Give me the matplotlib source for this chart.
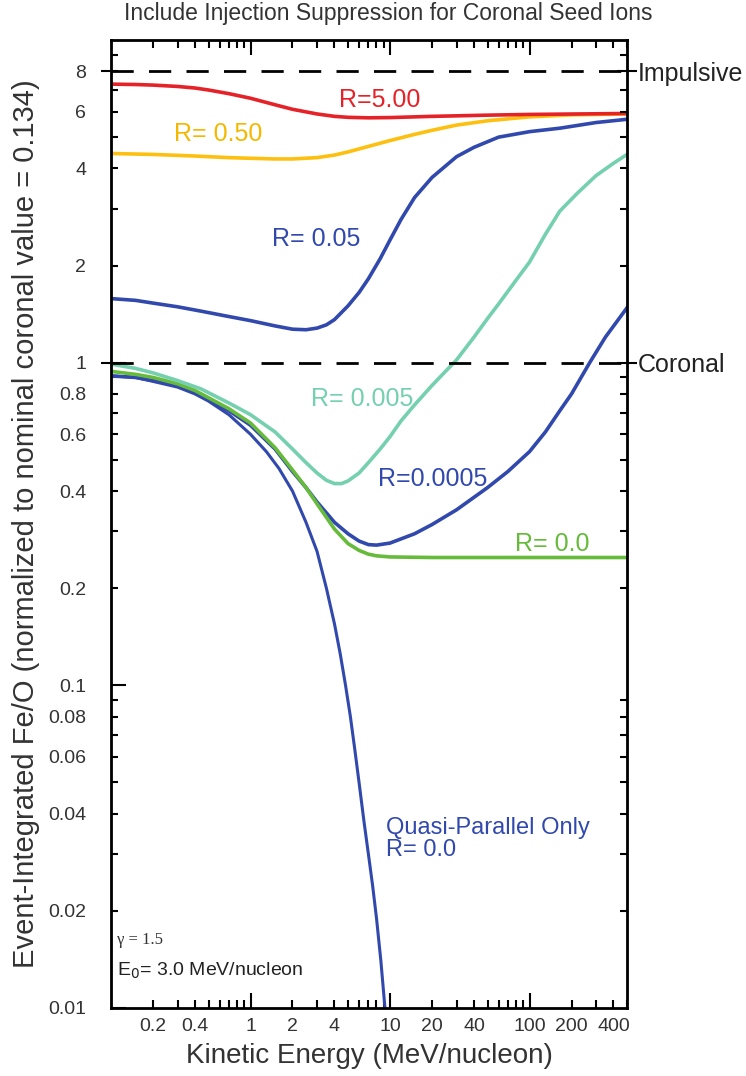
import numpy as np
import matplotlib.pyplot as plt
from matplotlib.ticker import FixedLocator, FuncFormatter, NullFormatter

plt.rcParams['font.family'] = ['Liberation Sans', 'DejaVu Sans']

# --- data (energy in MeV/nucleon, normalized Fe/O) ---
e_r5 = [0.1, 0.15, 0.2, 0.3, 0.4, 0.5, 0.7, 1, 1.5, 2, 3, 4, 5, 7, 10, 20, 50, 100, 500]
fe_r5 = [7.3, 7.28, 7.25, 7.18, 7.1, 7.0, 6.82, 6.6, 6.3, 6.1, 5.9, 5.8, 5.76, 5.74, 5.75,
         5.8, 5.85, 5.88, 5.92]

e_r05 = [0.1, 0.2, 0.4, 0.7, 1, 1.5, 2, 3, 4, 5, 7, 10, 15, 20, 30, 50, 100, 200, 500]
fe_r05 = [4.45, 4.42, 4.37, 4.32, 4.3, 4.28, 4.28, 4.32, 4.4, 4.5, 4.68, 4.88, 5.1, 5.25,
          5.45, 5.62, 5.78, 5.86, 5.9]

e_r005 = [0.1, 0.15, 0.2, 0.3, 0.44, 0.7, 1, 1.5, 2, 2.5, 3, 3.5, 4, 5, 6, 7, 8.5, 10, 12,
          15, 20, 30, 40, 60, 100, 165, 300, 500]
fe_r005 = [1.58, 1.56, 1.53, 1.49, 1.445, 1.39, 1.35, 1.3, 1.27, 1.265, 1.28, 1.31, 1.36,
           1.5, 1.65, 1.82, 2.1, 2.4, 2.78, 3.25, 3.75, 4.35, 4.65, 5.0, 5.2, 5.33, 5.55, 5.68]

e_r0005 = [0.1, 0.15, 0.2, 0.3, 0.44, 0.7, 1, 1.5, 2, 2.5, 3, 3.5, 4, 4.5, 5, 6, 7, 8.5, 10,
           12, 15, 20, 25, 30, 40, 50, 60, 80, 100, 130, 165, 220, 300, 400, 500]
fe_r0005 = [0.99, 0.96, 0.93, 0.88, 0.83, 0.75, 0.69, 0.61, 0.54, 0.49, 0.455, 0.432, 0.422,
            0.422, 0.43, 0.455, 0.49, 0.54, 0.59, 0.66, 0.74, 0.85, 0.94, 1.02, 1.2, 1.37,
            1.52, 1.8, 2.05, 2.5, 2.95, 3.35, 3.8, 4.15, 4.42]

e_r00005 = [0.1, 0.15, 0.2, 0.3, 0.4, 0.7, 1, 1.5, 2, 2.5, 3, 4, 5, 6, 7, 8, 10, 15, 20, 30,
            50, 70, 100, 130, 165, 200, 270, 350, 500]
fe_r00005 = [0.91, 0.9, 0.88, 0.85, 0.81, 0.71, 0.64, 0.54, 0.46, 0.41, 0.37, 0.32, 0.295,
             0.28, 0.273, 0.272, 0.276, 0.295, 0.315, 0.35, 0.41, 0.46, 0.53, 0.61, 0.71,
             0.8, 1.0, 1.2, 1.48]

e_r0 = [0.1, 0.15, 0.2, 0.3, 0.4, 0.7, 1, 1.5, 2, 2.5, 3, 4, 5, 6, 7, 8, 10, 20, 500]
fe_r0 = [0.94, 0.92, 0.9, 0.86, 0.82, 0.72, 0.65, 0.545, 0.465, 0.41, 0.365, 0.305, 0.275,
         0.262, 0.255, 0.252, 0.25, 0.249, 0.249]

e_qpar = [0.1, 0.15, 0.2, 0.3, 0.4, 0.5, 0.7, 1, 1.3, 1.6, 2, 2.5, 3, 3.5, 4, 4.4, 4.8, 5.2,
          5.6, 6, 6.5, 7, 7.5, 8, 8.6, 9.2, 9.5]
fe_qpar = [0.91, 0.9, 0.875, 0.84, 0.8, 0.76, 0.69, 0.6, 0.53, 0.47, 0.4, 0.32, 0.26, 0.2,
           0.155, 0.125, 0.1, 0.08, 0.063, 0.05, 0.038, 0.03, 0.024, 0.019, 0.014, 0.01, 0.0088]

impulsive_level = 8
coronal_level = 1

c_red = '#e52228'
c_yellow = '#fdc010'
c_blue = '#3149ad'
c_teal = '#74d0ae'
c_green = '#66bb3a'

fig = plt.figure(figsize=(7.46, 10.76), dpi=100)
ax = fig.add_axes([0.1488, 0.0632, 0.6917, 0.8996])

ax.plot(e_qpar, fe_qpar, color=c_blue, lw=2.2)
ax.plot(e_r005, fe_r005, color=c_blue, lw=2.6)
ax.plot(e_r00005, fe_r00005, color=c_blue, lw=2.6)
ax.plot(e_r0, fe_r0, color=c_green, lw=2.6)
ax.plot(e_r0005, fe_r0005, color=c_teal, lw=2.6)
ax.plot(e_r05, fe_r05, color=c_yellow, lw=2.6)
ax.plot(e_r5, fe_r5, color=c_red, lw=2.6)

ax.axhline(impulsive_level, color='black', lw=2, dashes=(8, 5.5))
ax.axhline(coronal_level, color='black', lw=2, dashes=(8, 5.5))

ax.set_xscale('log')
ax.set_yscale('log')
ax.set_xlim(0.1, 500)
ax.set_ylim(0.01, 10)

xlab = [0.2, 0.4, 1, 2, 4, 10, 20, 40, 100, 200, 400]
ylab = [0.01, 0.02, 0.04, 0.06, 0.08, 0.1, 0.2, 0.4, 0.6, 0.8, 1, 2, 4, 6, 8]


def pick(shown):
    def f(v, pos):
        for t in shown:
            if abs(v - t) < 1e-6 * t:
                return f'{t:g}'
        return ''
    return f


xminor = [m * 10.0 ** e for e in range(-1, 3) for m in range(2, 10) if m * 10.0 ** e <= 500]
yminor = [m * 10.0 ** e for e in range(-2, 1) for m in range(2, 10)]

ax.xaxis.set_major_locator(FixedLocator([1, 10, 100]))
ax.xaxis.set_minor_locator(FixedLocator(xminor))
ax.xaxis.set_major_formatter(FuncFormatter(pick(xlab)))
ax.xaxis.set_minor_formatter(FuncFormatter(pick(xlab)))
ax.yaxis.set_major_locator(FixedLocator([0.01, 0.1, 1]))
ax.yaxis.set_minor_locator(FixedLocator(yminor))
ax.yaxis.set_major_formatter(FuncFormatter(pick(ylab)))
ax.yaxis.set_minor_formatter(FuncFormatter(pick(ylab)))

tick_col = '#333333'
ax.tick_params(axis='x', which='major', direction='in', length=11, width=1.5,
               top=True, labelsize=14, pad=7, labelcolor=tick_col)
ax.tick_params(axis='x', which='minor', direction='in', length=6, width=1.5,
               top=True, labelsize=14, pad=7, labelcolor=tick_col)
ax.tick_params(axis='y', which='major', direction='in', length=11, width=1.5,
               right=False, labelsize=14, pad=18, labelcolor=tick_col)
ax.tick_params(axis='y', which='minor', direction='in', length=5, width=1.5,
               right=False, labelsize=14, pad=18, labelcolor=tick_col)
for s in ax.spines.values():
    s.set_linewidth(2)

# right axis: reference levels
ax2 = ax.twinx()
ax2.set_yscale('log')
ax2.set_ylim(0.01, 10)
ax2.yaxis.set_major_locator(FixedLocator([coronal_level, impulsive_level]))
ax2.yaxis.set_major_formatter(FuncFormatter(lambda v, p: {1: 'Coronal', 8: 'Impulsive'}.get(round(v), '')))
ax2.yaxis.set_minor_locator(FixedLocator(yminor))
ax2.yaxis.set_minor_formatter(NullFormatter())
ax2.tick_params(axis='y', which='major', direction='inout', length=14, width=1.5,
                labelsize=18, pad=1, labelcolor='#222222')
ax2.tick_params(axis='y', which='minor', direction='in', length=5, width=1.5)

# left outward marks at the reference levels
axl = ax.secondary_yaxis('left')
axl.set_yticks([coronal_level, impulsive_level])
axl.yaxis.set_major_formatter(NullFormatter())
axl.yaxis.set_minor_locator(FixedLocator([]))
axl.tick_params(axis='y', which='major', direction='out', length=7, width=1.5)

# curve labels
lab_fs = 18
ax.text(8.5, 6.54, 'R=5.00', color=c_red, fontsize=lab_fs, ha='center', va='center')
ax.text(0.586, 5.13, 'R= 0.50', color='#f5b800', fontsize=lab_fs, ha='center', va='center')
ax.text(2.96, 2.41, 'R= 0.05', color=c_blue, fontsize=lab_fs, ha='center', va='center')
ax.text(6.3, 0.772, 'R= 0.005', color=c_teal, fontsize=lab_fs, ha='center', va='center')
ax.text(20.3, 0.436, 'R=0.0005', color=c_blue, fontsize=lab_fs, ha='center', va='center')
ax.text(145, 0.275, 'R= 0.0', color=c_green, fontsize=lab_fs, ha='center', va='center')
ax.text(9.36, 0.0333, 'Quasi-Parallel Only\nR= 0.0', color=c_blue, fontsize=17,
        ha='left', va='center', linespacing=1.0)

ax.text(0.012, 0.066, 'γ = 1.5', transform=ax.transAxes, fontsize=12,
        family='Liberation Serif', color='#333333')
ax.text(0.012, 0.033, r'E$_{\rm 0}$= 3.0 MeV/nucleon', transform=ax.transAxes, fontsize=14,
        color='#222222')

ax.set_xlabel('Kinetic Energy (MeV/nucleon)', fontsize=20, color='#333333', labelpad=6)
ax.set_ylabel('Event-Integrated Fe/O (normalized to nominal coronal value = 0.134)',
              fontsize=21, color='#333333', labelpad=6)
fig.text(0.521, 0.987, 'Include Injection Suppression for Coronal Seed Ions', ha='center',
         va='center', fontsize=16.5, color='#333333',
         family=['Liberation Sans Narrow', 'Liberation Sans'])

fig.savefig('out.png', dpi=100)
